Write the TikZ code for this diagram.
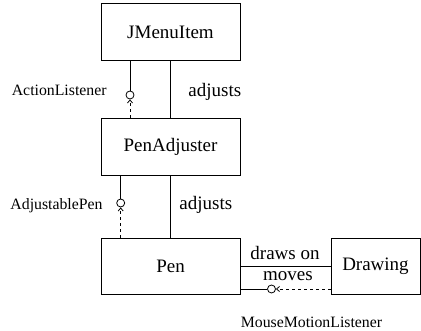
\documentclass[tikz,border=0pt]{standalone}
\usepackage{fontspec}
\setmainfont{Liberation Serif}
\usetikzlibrary{arrows.meta}

\begin{document}
\begin{tikzpicture}[x=1pt,y=-1pt,line width=0.8pt,
  classbox/.style={draw,minimum width=139pt,minimum height=57pt,inner sep=0pt,
    font=\fontsize{19}{22}\selectfont},
  lolly/.style={draw,circle,minimum size=8pt,inner sep=0pt},
  rolename/.style={inner sep=0pt,font=\fontsize{19}{22}\selectfont},
  ifname/.style={inner sep=0pt,font=\fontsize{15.8}{18}\selectfont}]
\useasboundingbox (0,0) rectangle (421,331);
% classes
\node[classbox] (jmenu) at (170.5,32) {JMenuItem};
\node[classbox] (padj) at (170.5,146.5) {PenAdjuster};
\node[classbox,minimum height=56pt] (pen) at (170.5,266) {Pen};
\node[classbox,minimum width=89pt,minimum height=56pt] (drawing) at (375.5,266) {Drawing};
% interfaces
\node[lolly] (al) at (130,95) {};
\node[lolly] (ap) at (120.7,203) {};
\node[lolly] (mml) at (271.5,289) {};
\node[ifname,anchor=east] (altext) at (107,90) {ActionListener};
\node[ifname,anchor=east] (aptext) at (103,206) {AdjustablePen};
\node[ifname] (mmltext) at (311.5,322) {MouseMotionListener};
% associations
\draw (jmenu) -- (padj);
\draw (padj) -- (pen);
\draw (pen) -- (drawing);
\draw (pen.south east |- mml) -- (mml);
\node[rolename,anchor=west] (adj1) at (188,92) {adjusts};
\node[rolename,anchor=west] (adj2) at (179,205) {adjusts};
\node[rolename] (drawson) at (285,253) {draws on};
\node[rolename] (moves) at (288,276) {moves};
% uses
\draw (jmenu.south -| al) -- (al);
\draw (padj.south -| ap) -- (ap);
\draw[dashed,-{Straight Barb[length=3pt,width=5pt]}] (padj.north -| al) -- (al);
\draw[dashed,-{Straight Barb[length=3pt,width=5pt]}] (pen.north -| ap) -- (ap);
\draw[dashed,-{Straight Barb[length=3pt,width=5pt]}] (drawing.west |- mml) -- (mml);
\end{tikzpicture}
\end{document}
